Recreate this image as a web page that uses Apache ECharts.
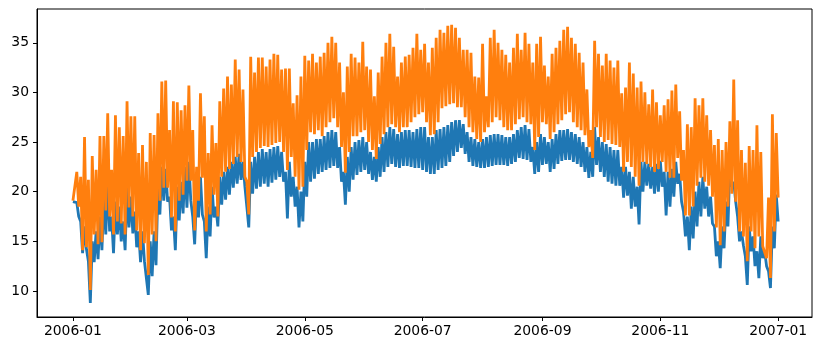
<!DOCTYPE html>
<html>
<head>
<meta charset="utf-8">
<title>2006 temperature series</title>
<script src="https://cdn.jsdelivr.net/npm/echarts@6/dist/echarts.min.js"></script>
<style>
  html, body { margin: 0; padding: 0; background: #fff; }
  #main { width: 822px; height: 351px; }
</style>
</head>
<body>
<div id="main"></div>
<script>
// x tick labels and y ticks
const tickDates = ['2006-01', '2006-03', '2006-05', '2006-07', '2006-09', '2006-11', '2007-01'];
const yTicks = [10, 15, 20, 25, 30, 35];

// values read every 2 days from 2006-01-01: peak of the day, then the following low
const orangeHigh = [
  19.1, 22.0, 21.5, 25.5, 21.2, 23.6, 22.2, 25.6, 25.6, 27.9, 22.2, 27.7, 26.5, 25.6, 29.1, 27.6,
  27.6, 23.9, 24.7, 23.0, 25.9, 25.7, 27.9, 31.1, 31.2, 26.2, 29.1, 29.0, 28.2, 28.7, 30.7,
  26.2, 22.5, 29.9, 27.6, 23.9, 26.7, 24.9, 29.1, 30.4, 31.6, 30.8, 33.3, 32.3, 30.3, 21.0,
  33.6, 32.0, 33.5, 33.5, 32.6, 33.3, 33.9, 33.8, 32.3, 32.4, 32.4, 28.9, 29.7, 31.6, 33.7,
  33.2, 33.9, 33.0, 33.6, 34.0, 35.0, 35.6, 35.0, 33.0, 30.0, 32.6, 33.9, 33.5, 33.0, 35.1,
  32.6, 32.3, 29.6, 32.0, 33.6, 35.0, 35.9, 34.6, 31.6, 33.0, 33.6, 33.8, 34.5, 35.9, 34.3,
  34.9, 33.0, 34.5, 35.5, 36.3, 36.0, 36.7, 36.8, 36.5, 35.5, 34.3, 34.3, 34.0, 31.6, 31.5, 34.9,
  29.6, 35.5, 36.3, 35.0, 34.3, 33.8, 33.0, 34.5, 35.9, 34.3, 36.0, 34.9, 33.0, 34.9, 35.6,
  32.7, 31.6, 33.9, 34.5, 35.2, 36.3, 36.6, 35.5, 34.9, 34.0, 33.0, 30.3, 26.2, 35.2, 33.9, 32.7,
  33.9, 33.2, 32.5, 33.2, 29.9, 30.5, 33.0, 31.9, 30.5, 31.1, 30.0, 28.8, 30.3, 29.0, 27.7,
  28.7, 29.3, 30.2, 30.8, 28.1, 24.2, 26.8, 26.5, 29.4, 28.7, 29.4, 27.7, 26.2, 24.7, 25.3,
  24.2, 25.0, 27.1, 31.3, 27.2, 24.2, 22.9, 24.6, 24.2, 26.7, 24.0, 14.6, 19.4, 27.8, 25.9
];
const orangeLow = [
  18.9, 18.5, 14.1, 14.4, 10.1, 15.7, 14.7, 14.9, 18.1, 17.5, 15.7, 17.0, 16.8, 15.7, 18.4, 17.5,
  16.1, 14.1, 14.8, 11.6, 15.7, 15.0, 19.1, 20.4, 20.4, 17.4, 16.0, 19.1, 19.7, 21.1, 21.1,
  16.1, 19.1, 21.4, 16.0, 17.7, 19.7, 17.5, 21.5, 22.0, 22.3, 22.8, 23.5, 23.0, 21.5, 17.7,
  23.5, 24.0, 24.4, 24.6, 24.5, 24.7, 24.9, 25.0, 24.0, 22.2, 23.5, 21.5, 20.2, 20.5, 24.2,
  26.0, 25.8, 26.2, 25.6, 26.5, 27.0, 27.4, 26.5, 24.5, 21.9, 24.0, 25.6, 25.6, 26.0, 26.2,
  25.0, 24.2, 23.3, 24.8, 25.8, 26.5, 26.8, 26.5, 26.0, 26.5, 26.5, 27.0, 27.5, 27.8, 28.0,
  27.0, 25.7, 25.8, 27.0, 28.4, 28.6, 28.8, 28.9, 28.5, 28.5, 27.5, 26.5, 26.0, 25.3, 25.0, 26.0,
  26.5, 27.0, 27.5, 27.2, 26.5, 26.2, 26.2, 26.8, 27.3, 27.5, 27.0, 26.8, 24.2, 25.5, 27.0,
  26.8, 25.3, 26.0, 26.8, 27.2, 27.8, 28.0, 27.0, 26.5, 26.2, 25.7, 24.5, 23.4, 26.5, 25.5, 25.0,
  25.2, 24.8, 24.7, 24.5, 22.0, 23.0, 22.5, 21.5, 20.6, 23.0, 22.8, 22.5, 22.0, 22.3, 23.0,
  22.0, 21.4, 21.4, 23.4, 21.1, 17.6, 17.6, 18.5, 20.6, 21.4, 21.0, 20.6, 19.5, 16.4, 14.6,
  16.0, 18.5, 19.8, 19.0, 16.0, 15.5, 13.0, 16.0, 14.3, 15.5, 14.5, 13.3, 11.3, 16.0, 19.4
];
const blueHigh = [
  19.0, 18.9, 17.0, 16.5, 13.0, 15.0, 16.0, 17.5, 19.5, 21.0, 17.5, 19.0, 18.5, 17.0, 20.5, 19.5,
  18.0, 16.0, 16.0, 13.0, 15.0, 16.0, 20.5, 22.5, 22.3, 19.5, 17.5, 20.5, 21.0, 22.5, 23.0,
  17.5, 20.0, 21.5, 17.0, 18.5, 20.5, 18.5, 21.5, 22.0, 22.5, 23.0, 23.5, 23.8, 23.0, 18.5,
  23.0, 23.5, 24.0, 24.3, 24.0, 24.3, 24.5, 24.6, 24.0, 22.0, 23.0, 21.5, 20.5, 20.0, 23.0,
  25.0, 25.0, 25.3, 25.3, 25.6, 26.0, 26.2, 26.0, 24.5, 22.0, 23.5, 24.5, 25.0, 25.2, 25.5,
  25.0, 24.0, 23.5, 24.5, 25.5, 26.0, 26.5, 26.3, 25.8, 26.0, 26.2, 26.2, 26.0, 26.3, 26.5,
  26.5, 25.5, 25.5, 26.2, 26.3, 26.5, 26.7, 27.0, 27.2, 27.2, 26.8, 26.0, 25.5, 25.3, 25.0, 25.3,
  25.5, 25.7, 25.8, 25.8, 25.7, 25.5, 25.5, 25.8, 26.2, 26.5, 26.7, 26.3, 24.5, 25.0, 25.8,
  25.5, 25.0, 25.3, 25.8, 26.2, 26.2, 26.3, 26.0, 25.8, 25.5, 25.0, 24.5, 24.0, 26.5, 25.5, 25.0,
  24.8, 24.5, 24.2, 24.2, 22.5, 22.5, 22.0, 21.5, 20.5, 23.0, 23.0, 22.8, 22.5, 22.8, 23.1,
  22.0, 22.0, 22.3, 23.0, 21.8, 18.0, 17.5, 18.5, 20.0, 21.0, 21.5, 20.5, 19.5, 16.5, 15.0,
  16.5, 19.0, 22.5, 21.0, 17.5, 16.0, 13.5, 16.5, 15.5, 14.0, 15.5, 14.0, 12.0, 16.5, 19.7
];
const blueLow = [
  18.8, 17.5, 13.8, 14.2, 8.8, 12.9, 13.2, 14.1, 15.7, 16.0, 13.8, 15.7, 15.0, 14.1, 16.4, 15.8,
  14.4, 12.9, 13.0, 9.6, 11.5, 12.6, 17.7, 19.1, 19.0, 16.1, 14.1, 17.1, 17.8, 18.4, 19.1,
  14.7, 17.4, 17.7, 13.3, 15.5, 17.4, 16.5, 18.7, 19.2, 19.7, 20.4, 20.8, 21.2, 20.5, 16.4,
  19.8, 20.3, 20.5, 20.8, 20.5, 20.9, 21.2, 21.5, 21.0, 17.3, 19.5, 18.5, 16.4, 17.0, 19.5,
  21.0, 21.3, 21.8, 22.0, 22.2, 22.4, 22.6, 22.4, 21.0, 18.7, 20.0, 21.2, 21.7, 22.0, 22.2,
  21.8, 21.2, 21.0, 21.5, 22.0, 22.5, 22.8, 22.5, 22.4, 22.6, 22.6, 22.5, 22.4, 22.4, 22.2,
  22.0, 21.8, 21.8, 22.2, 22.4, 22.6, 23.0, 23.6, 24.0, 24.4, 23.8, 23.0, 22.6, 22.5, 22.4, 22.4,
  22.5, 22.6, 22.7, 22.7, 22.7, 22.6, 22.8, 23.0, 23.4, 23.3, 23.2, 23.0, 21.8, 22.0, 22.7,
  22.8, 22.0, 22.3, 22.8, 23.1, 23.2, 23.2, 23.0, 22.8, 22.5, 22.0, 21.4, 21.5, 22.7, 22.0, 21.5,
  21.0, 20.8, 20.6, 20.6, 19.4, 19.6, 18.3, 18.5, 16.7, 20.0, 20.6, 20.3, 19.8, 20.0, 20.5,
  17.6, 18.5, 19.5, 20.8, 19.0, 15.5, 14.1, 15.3, 16.5, 17.5, 18.3, 17.5, 16.8, 13.5, 12.3,
  14.3, 16.5, 20.5, 19.0, 15.0, 14.6, 10.6, 14.0, 12.5, 11.3, 13.3, 12.5, 10.3, 14.3, 17.0
];

const DAY = 86400000;
const start = Date.UTC(2006, 0, 1);
const toTime = s => Date.parse(s + '-01T00:00:00Z');
const tickTimes = tickDates.map(toTime);

// high on day 2k, low on day 2k+1
function zigzag(hi, lo) {
  const pts = [];
  for (let i = 0; i < hi.length; i++) {
    pts.push([start + 2 * i * DAY, hi[i]]);
    pts.push([start + (2 * i + 1) * DAY, lo[i]]);
  }
  return pts;
}

const chart = echarts.init(document.getElementById('main'), null, { renderer: 'canvas' });

const labelFont = { fontFamily: 'DejaVu Sans', fontSize: 13.9, color: '#000' };

chart.setOption({
  animation: false,
  backgroundColor: '#fff',
  grid: {
    left: 37, right: 10, top: 9, bottom: 34,
    show: true, borderColor: '#000', borderWidth: 1, backgroundColor: 'transparent'
  },
  xAxis: {
    type: 'value',
    min: start - 18.6 * DAY,
    max: start + 382.5 * DAY,
    splitLine: { show: false },
    axisLine: { show: true, lineStyle: { color: '#000', width: 1 } },
    axisTick: { show: true, customValues: tickTimes, length: 4, lineStyle: { color: '#000', width: 1 } },
    axisLabel: Object.assign({
      customValues: tickTimes,
      margin: 7,
      formatter: v => {
        const d = new Date(v);
        return d.getUTCFullYear() + '-' + String(d.getUTCMonth() + 1).padStart(2, '0');
      }
    }, labelFont)
  },
  yAxis: {
    type: 'value',
    min: 7.38,
    max: 38.4,
    splitLine: { show: false },
    axisLine: { show: true, lineStyle: { color: '#000', width: 1 } },
    axisTick: { show: true, customValues: yTicks, length: 4, lineStyle: { color: '#000', width: 1 } },
    axisLabel: Object.assign({ customValues: yTicks, margin: 8 }, labelFont)
  },
  series: [
    {
      type: 'line',
      data: zigzag(blueHigh, blueLow),
      showSymbol: false,
      silent: true,
      lineStyle: { color: '#1f77b4', width: 2.8 },
      itemStyle: { color: '#1f77b4' },
      z: 2
    },
    {
      type: 'line',
      data: zigzag(orangeHigh, orangeLow),
      showSymbol: false,
      silent: true,
      lineStyle: { color: '#ff7f0e', width: 2.8 },
      itemStyle: { color: '#ff7f0e' },
      z: 3
    }
  ]
});
</script>
</body>
</html>
